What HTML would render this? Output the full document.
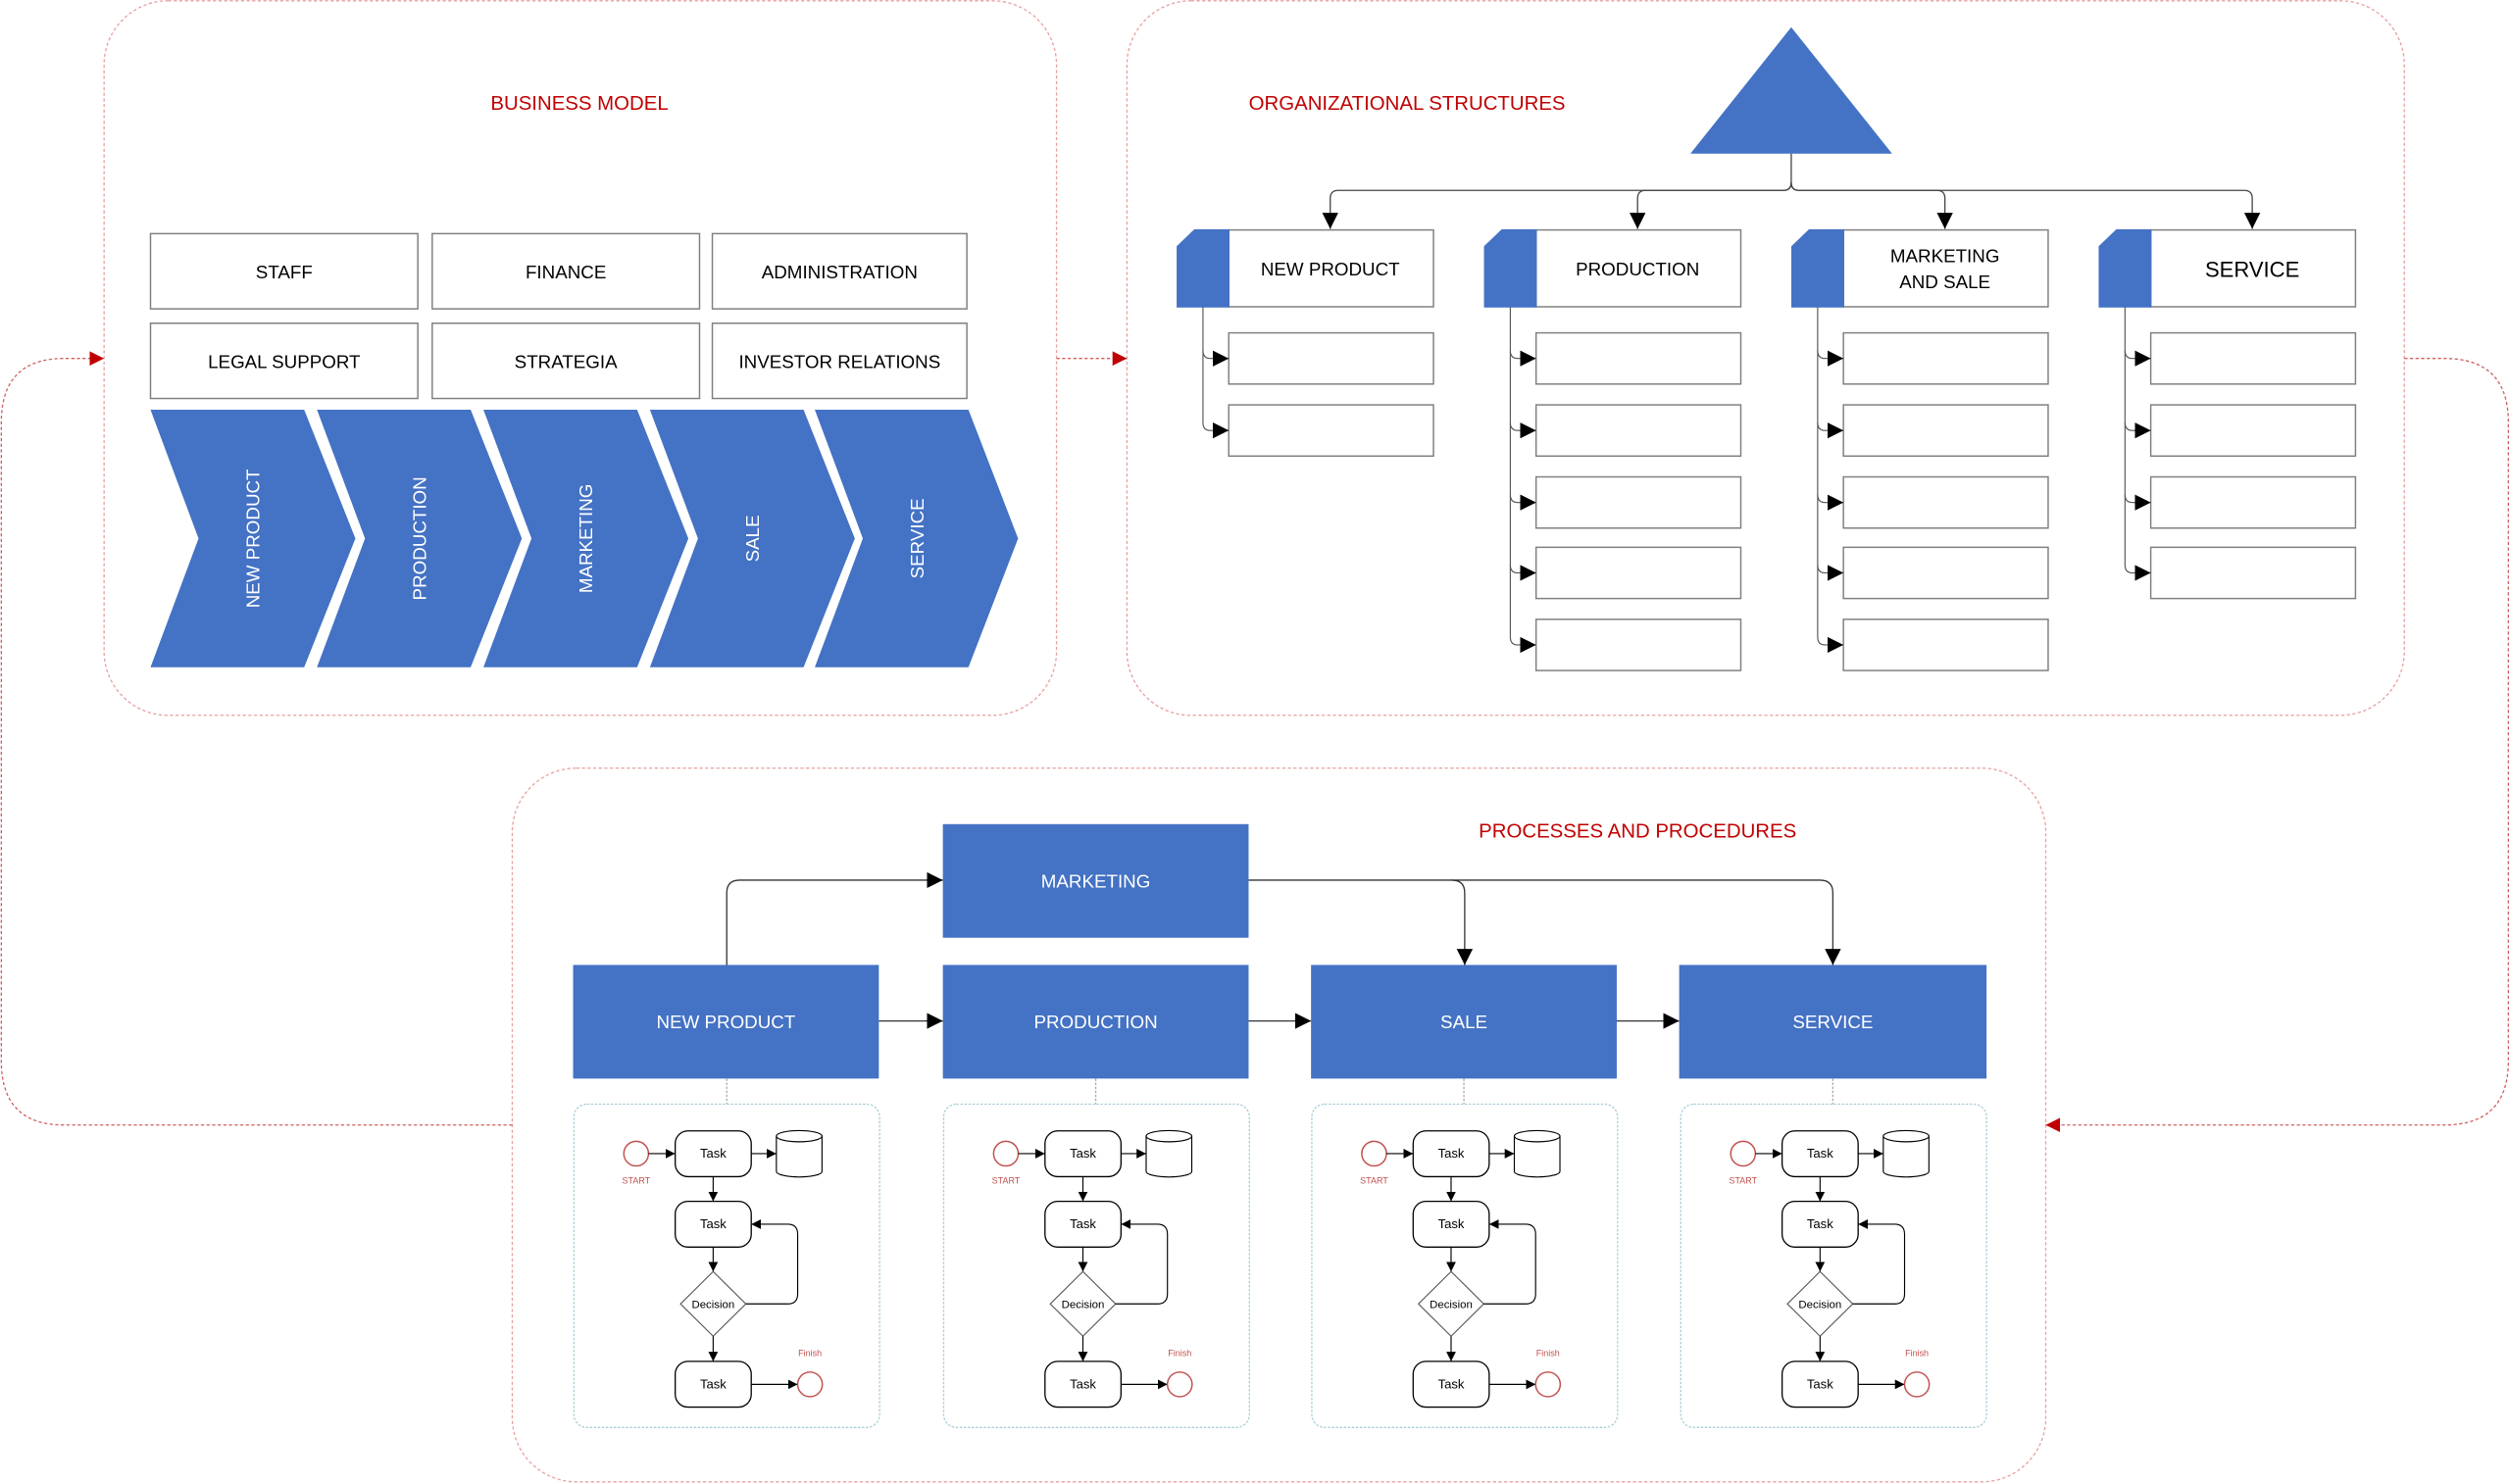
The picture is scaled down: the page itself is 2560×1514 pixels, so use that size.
<!DOCTYPE html>
<html><head><meta charset="utf-8"><style>
html,body{margin:0;padding:0;background:#fff;width:2560px;height:1514px;overflow:hidden}
svg{display:block}
text{font-family:"Liberation Sans",sans-serif}
</style></head><body>
<svg width="2560" height="1514" viewBox="0 0 1568 927.35" xmlns="http://www.w3.org/2000/svg">
<defs>
<marker id="a" viewBox="0 0 10 10" refX="10" refY="5" markerWidth="10" markerHeight="10" markerUnits="userSpaceOnUse" orient="auto"><path d="M0,0L10,5L0,10z" fill="#000"/></marker>
<marker id="s" viewBox="0 0 10 10" refX="10" refY="5" markerWidth="6" markerHeight="6" markerUnits="userSpaceOnUse" orient="auto"><path d="M0,0L10,5L0,10z" fill="#000"/></marker>
<marker id="r" viewBox="0 0 10 10" refX="10" refY="5" markerWidth="9" markerHeight="9" markerUnits="userSpaceOnUse" orient="auto"><path d="M0,0L10,5L0,10z" fill="#c00000"/></marker>
<g id="flow">
 <rect x="0.5" y="0" width="191" height="202" rx="8" fill="none" stroke="#a9cfd6" stroke-width="0.8" stroke-dasharray="1.5,1"/>
 <circle cx="39.4" cy="30.9" r="7.7" fill="none" stroke="#c0504d" stroke-width="0.9"/>
 <text x="39.4" y="49.5" font-size="5.5" fill="#c0504d" text-anchor="middle">START</text>
 <line x1="47.1" y1="30.9" x2="63.8" y2="30.9" stroke="#000" stroke-width="0.7" marker-end="url(#s)"/>
 <rect x="63.8" y="16.7" width="47.5" height="28.6" rx="8" fill="#fff" stroke="#000" stroke-width="0.8"/>
 <text x="87.5" y="33.5" font-size="8" text-anchor="middle">Task</text>
 <line x1="111.3" y1="30.9" x2="127" y2="30.9" stroke="#000" stroke-width="0.7" marker-end="url(#s)"/>
 <path d="M127,20 L127,42 A14.25,3.5 0 0 0 155.5,42 L155.5,20 A14.25,3.5 0 0 0 127,20 A14.25,3.5 0 0 0 155.5,20" fill="#fff" stroke="#000" stroke-width="0.7"/>
 <line x1="87.5" y1="45.3" x2="87.5" y2="60.7" stroke="#000" stroke-width="0.7" marker-end="url(#s)"/>
 <rect x="63.8" y="60.7" width="47.5" height="28.6" rx="8" fill="#fff" stroke="#000" stroke-width="0.8"/>
 <text x="87.5" y="77.5" font-size="8" text-anchor="middle">Task</text>
 <line x1="87.5" y1="89.3" x2="87.5" y2="104.6" stroke="#000" stroke-width="0.7" marker-end="url(#s)"/>
 <path d="M87.5,104.6 L107.9,124.8 L87.5,145 L67.1,124.8z" fill="#fff" stroke="#555" stroke-width="0.7"/>
 <text x="87.5" y="127.3" font-size="7" text-anchor="middle">Decision</text>
 <path d="M107.9,124.8 H134 Q140.3,124.8 140.3,118.5 V81.3 Q140.3,75 134,75 H111.3" fill="none" stroke="#000" stroke-width="0.7" marker-end="url(#s)"/>
 <line x1="87.5" y1="145" x2="87.5" y2="160.7" stroke="#000" stroke-width="0.7" marker-end="url(#s)"/>
 <rect x="63.8" y="160.7" width="47.5" height="28.6" rx="8" fill="#fff" stroke="#000" stroke-width="0.8"/>
 <text x="87.5" y="177.5" font-size="8" text-anchor="middle">Task</text>
 <line x1="111.3" y1="175.1" x2="140.3" y2="175.1" stroke="#000" stroke-width="0.7" marker-end="url(#s)"/>
 <circle cx="148" cy="175.1" r="7.7" fill="none" stroke="#c0504d" stroke-width="0.9"/>
 <text x="148" y="157.5" font-size="5.5" fill="#c0504d" text-anchor="middle">Finish</text>
</g>
</defs>

<g fill="none" stroke="#e8a0a0" stroke-width="0.8" stroke-dasharray="2,1.5">
<rect x="65" y="0.5" width="595" height="446.5" rx="40"/>
<rect x="704" y="0.5" width="798" height="446.5" rx="40"/>
<rect x="320" y="480" width="958" height="446" rx="40"/>
</g>
<g fill="none" stroke="#d06060" stroke-width="0.8" stroke-dasharray="2,1.5">
<path d="M320,703 H40 Q0.8,703 0.8,663 V264 Q0.8,224 40,224 H65" marker-end="url(#r)"/>
<path d="M660,224 H704" marker-end="url(#r)"/>
<path d="M1502,224 H1527 Q1567,224 1567,264 V663 Q1567,703 1527,703 H1278" marker-end="url(#r)"/>
</g>

<text x="362" y="68.5" font-size="12.5" fill="#c00000" text-anchor="middle">BUSINESS MODEL</text>
<g fill="#fff" stroke="#7f7f7f" stroke-width="0.9">
<rect x="94" y="146" width="167" height="47"/><rect x="270" y="146" width="167" height="47"/><rect x="445" y="146" width="159" height="47"/>
<rect x="94" y="202" width="167" height="47"/><rect x="270" y="202" width="167" height="47"/><rect x="445" y="202" width="159" height="47"/>
</g>
<g font-size="11.5" text-anchor="middle" fill="#000">
<text x="177.5" y="174">STAFF</text><text x="353.5" y="174">FINANCE</text><text x="524.5" y="174">ADMINISTRATION</text>
<text x="177.5" y="230">LEGAL SUPPORT</text><text x="353.5" y="230">STRATEGIA</text><text x="524.5" y="230">INVESTOR RELATIONS</text>
</g>
<g fill="#4472c4">
<path d="M94,256 H190 L222,336.5 L190,417 H94 L124,336.5z"/>
<path d="M198,256 H294 L326,336.5 L294,417 H198 L228,336.5z"/>
<path d="M302,256 H398 L430,336.5 L398,417 H302 L332,336.5z"/>
<path d="M406,256 H502 L534,336.5 L502,417 H406 L436,336.5z"/>
<path d="M509,256 H605 L636,336.5 L605,417 H509 L539,336.5z"/>
</g>
<g fill="#fff" font-size="11.5" text-anchor="middle">
<text transform="translate(162,336.5) rotate(-90)">NEW PRODUCT</text>
<text transform="translate(266,336.5) rotate(-90)">PRODUCTION</text>
<text transform="translate(370,336.5) rotate(-90)">MARKETING</text>
<text transform="translate(474,336.5) rotate(-90)">SALE</text>
<text transform="translate(577,336.5) rotate(-90)">SERVICE</text>
</g>

<text x="879" y="68.5" font-size="12.5" fill="#c00000" text-anchor="middle">ORGANIZATIONAL STRUCTURES</text>
<path d="M1119,17 L1182,96 L1056,96z" fill="#4472c4"/>
<g fill="none" stroke="#444" stroke-width="0.8">
<path d="M1119,96 V114 Q1119,119 1114,119 H836 Q831,119 831,124 V143" marker-end="url(#a)"/>
<path d="M1119,114 Q1119,119 1114,119 H1028 Q1023,119 1023,124 V143" marker-end="url(#a)"/>
<path d="M1119,114 Q1119,119 1124,119 H1210 Q1215,119 1215,124 V143" marker-end="url(#a)"/>
<path d="M1119,114 Q1119,119 1124,119 H1402 Q1407,119 1407,124 V143" marker-end="url(#a)"/>
</g>
<g id="hdr">
<rect x="767.6" y="143.7" width="127.9" height="48" fill="#fff" stroke="#7f7f7f" stroke-width="0.9"/>
<path d="M746.3,143.7 H767.6 V191.7 H735.5 V154.1z" fill="#4472c4" stroke="#4472c4" stroke-width="0.9"/>
</g>
<use href="#hdr" x="192"/><use href="#hdr" x="384"/><use href="#hdr" x="576"/>
<g font-size="11.5" text-anchor="middle">
<text x="831" y="172">NEW PRODUCT</text>
<text x="1023" y="172">PRODUCTION</text>
<text x="1215" y="164">MARKETING</text><text x="1215" y="180">AND SALE</text>
<text x="1407" y="173" font-size="13.5">SERVICE</text>
</g>
<g fill="#fff" stroke="#7f7f7f" stroke-width="0.9">
<rect x="767.6" y="208" width="127.9" height="32"/><rect x="767.6" y="253" width="127.9" height="32"/>
<rect x="959.6" y="208" width="127.9" height="32"/><rect x="959.6" y="253" width="127.9" height="32"/><rect x="959.6" y="298" width="127.9" height="32"/><rect x="959.6" y="342" width="127.9" height="32"/><rect x="959.6" y="387" width="127.9" height="32"/>
<rect x="1151.6" y="208" width="127.9" height="32"/><rect x="1151.6" y="253" width="127.9" height="32"/><rect x="1151.6" y="298" width="127.9" height="32"/><rect x="1151.6" y="342" width="127.9" height="32"/><rect x="1151.6" y="387" width="127.9" height="32"/>
<rect x="1343.6" y="208" width="127.9" height="32"/><rect x="1343.6" y="253" width="127.9" height="32"/><rect x="1343.6" y="298" width="127.9" height="32"/><rect x="1343.6" y="342" width="127.9" height="32"/>
</g>
<g fill="none" stroke="#555" stroke-width="0.7">
<path d="M751.5,192 V264 Q751.5,269 756,269 H767.6" marker-end="url(#a)"/><path d="M751.5,219 Q751.5,224 756,224 H767.6" marker-end="url(#a)"/>
<path d="M943.5,192 V398 Q943.5,403 948,403 H959.6" marker-end="url(#a)"/><path d="M943.5,219 Q943.5,224 948,224 H959.6" marker-end="url(#a)"/><path d="M943.5,264 Q943.5,269 948,269 H959.6" marker-end="url(#a)"/><path d="M943.5,309 Q943.5,314 948,314 H959.6" marker-end="url(#a)"/><path d="M943.5,353 Q943.5,358 948,358 H959.6" marker-end="url(#a)"/>
<path d="M1135.5,192 V398 Q1135.5,403 1140,403 H1151.6" marker-end="url(#a)"/><path d="M1135.5,219 Q1135.5,224 1140,224 H1151.6" marker-end="url(#a)"/><path d="M1135.5,264 Q1135.5,269 1140,269 H1151.6" marker-end="url(#a)"/><path d="M1135.5,309 Q1135.5,314 1140,314 H1151.6" marker-end="url(#a)"/><path d="M1135.5,353 Q1135.5,358 1140,358 H1151.6" marker-end="url(#a)"/>
<path d="M1327.5,192 V353 Q1327.5,358 1332,358 H1343.6" marker-end="url(#a)"/><path d="M1327.5,219 Q1327.5,224 1332,224 H1343.6" marker-end="url(#a)"/><path d="M1327.5,264 Q1327.5,269 1332,269 H1343.6" marker-end="url(#a)"/><path d="M1327.5,309 Q1327.5,314 1332,314 H1343.6" marker-end="url(#a)"/>
</g>

<text x="1023" y="523.5" font-size="12.5" fill="#c00000" text-anchor="middle">PROCESSES AND PROCEDURES</text>
<g fill="#4472c4">
<rect x="589" y="515" width="191" height="71"/>
<rect x="358" y="603" width="191" height="71"/><rect x="589" y="603" width="191" height="71"/><rect x="819" y="603" width="191" height="71"/><rect x="1049" y="603" width="192" height="71"/>
</g>
<g fill="#fff" font-size="11.5" text-anchor="middle">
<text x="684.5" y="554.5">MARKETING</text>
<text x="453.5" y="642.5">NEW PRODUCT</text><text x="684.5" y="642.5">PRODUCTION</text><text x="914.5" y="642.5">SALE</text><text x="1145" y="642.5">SERVICE</text>
</g>
<g fill="none" stroke="#333" stroke-width="0.8">
<path d="M549,638 H589" marker-end="url(#a)"/><path d="M780,638 H819" marker-end="url(#a)"/><path d="M1010,638 H1049" marker-end="url(#a)"/>
<path d="M454,603 V558 Q454,550 462,550 H589" marker-end="url(#a)"/>
<path d="M780,550 H907 Q915,550 915,558 V603" marker-end="url(#a)"/>
<path d="M907,550 H1137 Q1145,550 1145,558 V603" marker-end="url(#a)"/>
</g>
<g stroke="#aaa" stroke-width="0.8" stroke-dasharray="1.5,1">
<line x1="454" y1="674" x2="454" y2="690"/><line x1="684.5" y1="674" x2="684.5" y2="690"/><line x1="914.5" y1="674" x2="914.5" y2="690"/><line x1="1145" y1="674" x2="1145" y2="690"/>
</g>
<use href="#flow" x="358" y="690"/>
<use href="#flow" x="589" y="690"/>
<use href="#flow" x="819" y="690"/>
<use href="#flow" x="1049.5" y="690"/>
</svg>
</body></html>
